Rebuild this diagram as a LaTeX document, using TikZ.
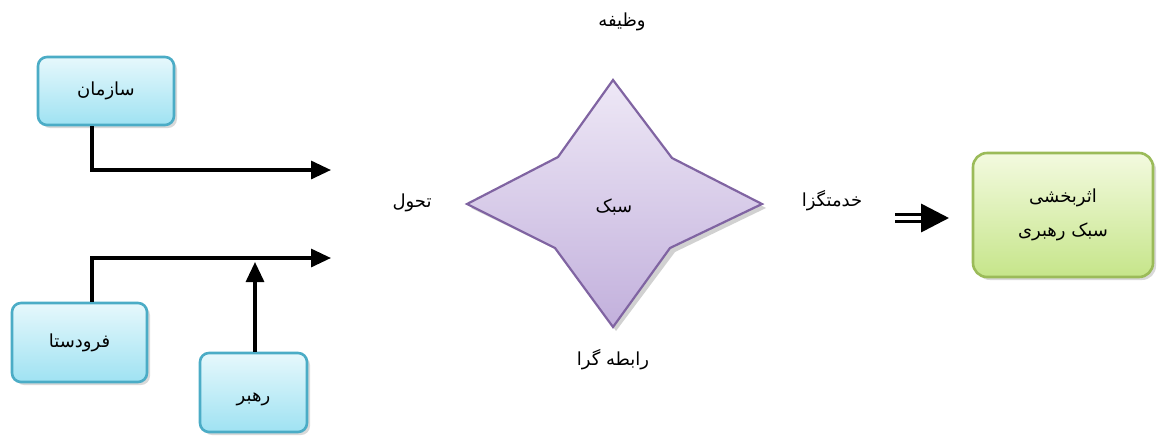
\documentclass[tikz,border=0pt]{standalone}
\usepackage{fontspec}
\TeXXeTstate=1
\newfontfamily\fa[Script=Arabic]{DejaVu Sans}
\usetikzlibrary{arrows.meta,shadows}
\definecolor{cyanB}{HTML}{4BACC6}
\definecolor{cyanT}{HTML}{E6F8FC}
\definecolor{cyanD}{HTML}{9FE2F2}
\definecolor{grnB}{HTML}{9BBB59}
\definecolor{grnT}{HTML}{F3FADF}
\definecolor{grnD}{HTML}{C6E58A}
\definecolor{purB}{HTML}{8064A2}
\definecolor{purT}{HTML}{EEE8F6}
\definecolor{purD}{HTML}{C2B0DC}
\begin{document}
\begin{tikzpicture}[x=1pt,y=-1pt,
  box/.style={draw=cyanB, line width=2.6pt, rounded corners=9pt, top color=cyanT, bottom color=cyanD,
    drop shadow={opacity=0.3, shadow xshift=3pt, shadow yshift=-3pt}, font=\fa\fontsize{18}{22}\selectfont},
  gbox/.style={draw=grnB, line width=2.6pt, rounded corners=14pt, top color=grnT, bottom color=grnD,
    drop shadow={opacity=0.3, shadow xshift=3pt, shadow yshift=-3pt}, font=\fa\fontsize{18}{22}\selectfont, align=center},
  lbl/.style={font=\fa\fontsize{18}{22}\selectfont},
  arr/.style={line width=3.2pt, -{Triangle[length=20pt,width=18pt]}}]
\useasboundingbox (0,0) rectangle (1158,437);
% boxes
\node[box, minimum width=136pt, minimum height=68pt] (org) at (106,91) {\beginR سازمان\endR};
\node[box, minimum width=135pt, minimum height=79pt] (sub) at (79.5,342.5) {\beginR فرودستا\endR};
\node[box, minimum width=107pt, minimum height=79pt] (lead) at (253.5,392.5) {};
\node[lbl] (leadt) at (253.5,399) {\beginR رهبر\endR};
\node[gbox, minimum width=180pt, minimum height=124pt] (eff) at (1063,215) {\beginR اثربخشی\endR\\[12pt]\beginR سبک رهبری\endR};
% star
\fill[black, opacity=0.18] (616,84) -- (675,162) -- (766,208) -- (675,252) -- (616,331) -- (561,252) -- (471,208) -- (561,161) -- cycle;
\draw[draw=purB, line width=2.2pt, top color=purT, bottom color=purD]
  (613,80) -- (672,158) -- (762,204) -- (670,248) -- (613,327) -- (555,248) -- (467,204) -- (558,157) -- cycle;
\node[lbl] (style) at (614,207) {\beginR سبک\endR};
% labels
\node[lbl] (task) at (622,22) {\beginR وظیفه\endR};
\node[lbl] (trans) at (412,203) {\beginR تحول\endR};
\node[lbl] (serv) at (832,201) {\beginR خدمتگزا\endR};
\node[lbl] (rel) at (613,360) {\beginR رابطه گرا\endR};
% connectors
\coordinate (a1) at (331,170);
\coordinate (a2) at (331,258);
\coordinate (a3) at (255,262);
\draw[arr] ([xshift=-14pt]org.south) |- (a1);
\draw[arr] ([xshift=12.5pt]sub.north) |- (a2);
\draw[arr] ([xshift=1.5pt]lead.north) -- (a3);
\coordinate (d1) at (895,218);
\coordinate (d2) at (949,218);
\draw[line width=3.6pt, double distance=3.5pt, -{Triangle[length=28pt,width=28pt]}] (d1) -- (d2);
\end{tikzpicture}
\end{document}
